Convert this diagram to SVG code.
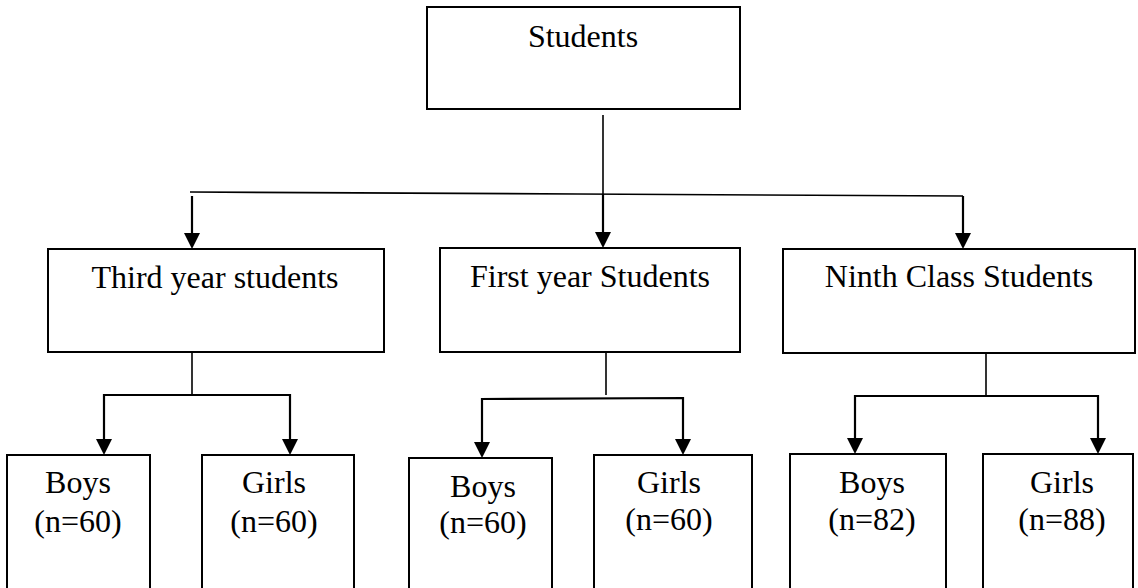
<svg xmlns="http://www.w3.org/2000/svg" width="1138" height="588" viewBox="0 0 1138 588">
<style>
.box{fill:#fff;stroke:#000;stroke-width:2}
.t{font-family:"Liberation Serif","Times New Roman",serif;font-size:32px;fill:#000;text-anchor:middle}
.ln{fill:none;stroke:#000;stroke-width:1.6}
.ar{fill:none;stroke:#000;stroke-width:2.2;marker-end:url(#ah)}
</style>
<defs>
<marker id="ah" markerUnits="userSpaceOnUse" markerWidth="16" markerHeight="16" viewBox="0 0 16 16" refX="8" refY="16" orient="auto-start-reverse">
<path d="M0,0 L16,0 L8,16 Z" fill="#000"/>
</marker>
</defs>
<g id="connectors">
<line class="ln" x1="603" y1="115" x2="603" y2="196"/>
<polyline class="ln" points="190,192 578,194 963,196"/>
<path d="M603,194 V233" class="ln" style="stroke-width:2.2"/>
<path d="M603,232 L611,232 L603,248 L595,232 Z" fill="#000"/>
<path d="M192,196 V233" class="ln" style="stroke-width:2.2"/>
<path d="M192,233 L200,233 L192,249 L184,233 Z" fill="#000"/>
<path d="M963,196 V233" class="ln" style="stroke-width:2.2"/>
<path d="M963,233 L971,233 L963,249 L955,233 Z" fill="#000"/>

<line class="ln" x1="192" y1="352" x2="192" y2="395"/>
<polyline class="ln" points="104,439 104,395 290,395 290,439" style="stroke-width:2.2"/>
<path d="M96,439 L112,439 L104,455 Z" fill="#000"/>
<path d="M282,439 L298,439 L290,455 Z" fill="#000"/>

<line class="ln" x1="606" y1="352" x2="606" y2="395"/>
<polyline class="ln" points="482,442 482,399 683,398 683,439" style="stroke-width:2.2"/>
<path d="M474,442 L490,442 L482,458 Z" fill="#000"/>
<path d="M675,439 L691,439 L683,455 Z" fill="#000"/>

<line class="ln" x1="986" y1="353" x2="986" y2="396"/>
<polyline class="ln" points="855,438 855,396 1098,396 1098,438" style="stroke-width:2.2"/>
<path d="M847,438 L863,438 L855,454 Z" fill="#000"/>
<path d="M1090,438 L1106,438 L1098,454 Z" fill="#000"/>
</g>
<g id="students"><rect class="box" x="427" y="7" width="313" height="102"/><text class="t" x="583" y="47">Students</text></g>
<g id="third"><rect class="box" x="48" y="249" width="336" height="103"/><text class="t" x="215" y="288">Third year students</text></g>
<g id="first"><rect class="box" x="440" y="248" width="300" height="104"/><text class="t" x="590" y="287">First year Students</text></g>
<g id="ninth"><rect class="box" x="783" y="249" width="352" height="104"/><text class="t" x="959" y="287">Ninth Class Students</text></g>
<g id="third-boys"><rect class="box" x="7" y="455" width="143" height="140"/><text class="t" x="78" y="493">Boys</text><text class="t" x="78" y="532">(n=60)</text></g>
<g id="third-girls"><rect class="box" x="202" y="455" width="152" height="140"/><text class="t" x="274" y="493">Girls</text><text class="t" x="274" y="532">(n=60)</text></g>
<g id="first-boys"><rect class="box" x="409" y="458" width="143" height="140"/><text class="t" x="483" y="497">Boys</text><text class="t" x="483" y="533">(n=60)</text></g>
<g id="first-girls"><rect class="box" x="594" y="455" width="158" height="140"/><text class="t" x="669" y="493">Girls</text><text class="t" x="669" y="530">(n=60)</text></g>
<g id="ninth-boys"><rect class="box" x="790" y="454" width="156" height="140"/><text class="t" x="872" y="493">Boys</text><text class="t" x="872" y="530">(n=82)</text></g>
<g id="ninth-girls"><rect class="box" x="983" y="454" width="150" height="140"/><text class="t" x="1062" y="493">Girls</text><text class="t" x="1062" y="530">(n=88)</text></g>
</svg>
